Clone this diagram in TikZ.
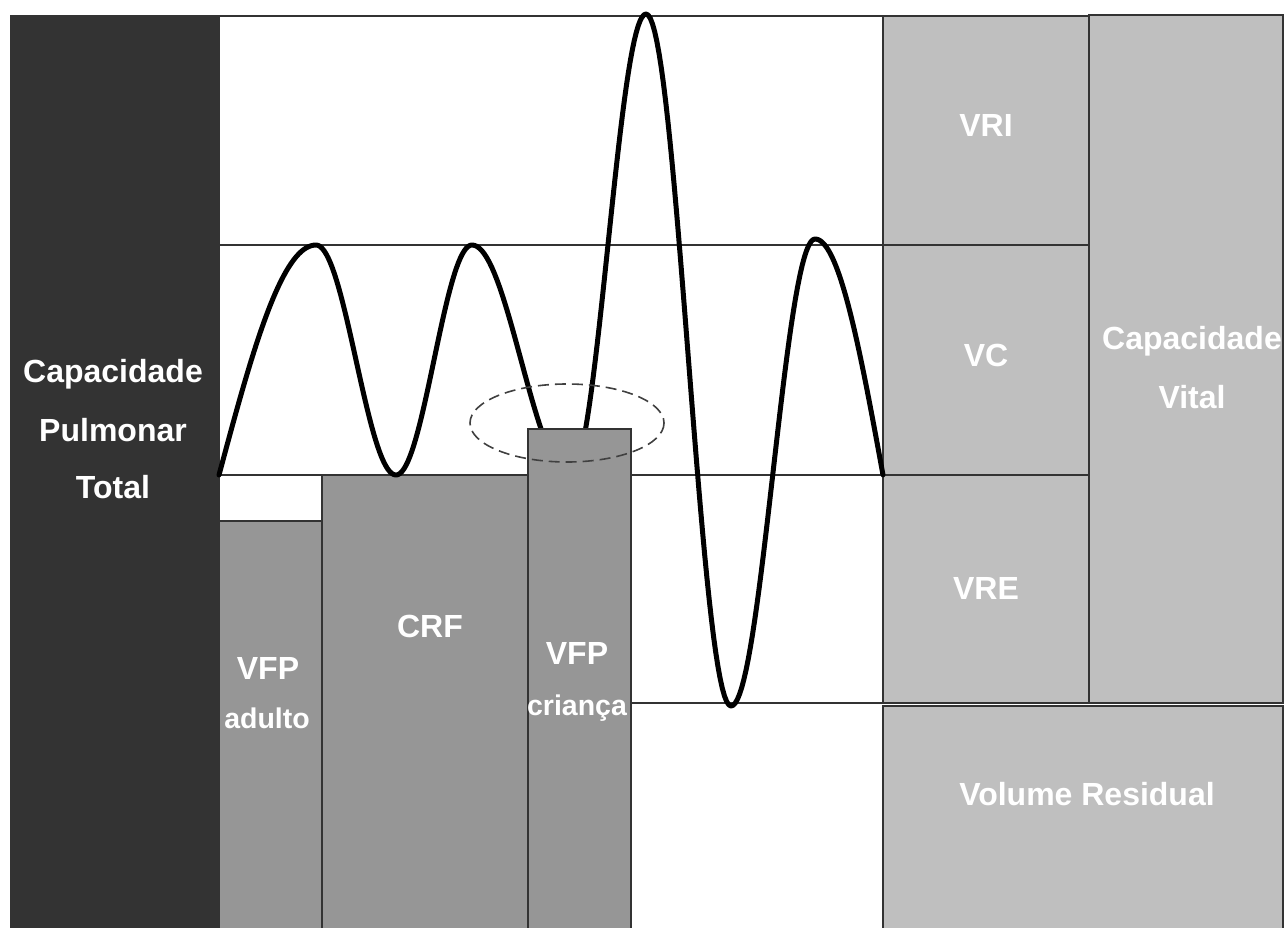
\documentclass[tikz,border=0pt]{standalone}
\usepackage{fontspec}
\setmainfont{Liberation Sans}
\begin{document}
\begin{tikzpicture}[x=1pt,y=-1pt,
  rule/.style={draw=black!80,line width=1.1pt},
  darkbox/.style={rule,fill=black!80},
  midbox/.style={rule,fill=black!41},
  lightbox/.style={rule,fill=black!25},
  lbl/.style={text=white,font=\fontsize{32}{38}\selectfont\bfseries,anchor=base,inner sep=0pt},
  sublbl/.style={lbl,font=\fontsize{28.5}{34}\selectfont\bfseries},
  wave/.style={draw=black,line width=5pt,line join=round,line cap=round}]
\useasboundingbox (0,0) rectangle (1284,928);
\fill[white] (0,0) rectangle (1284,928);
% frame lines
\draw[rule] (219,16) -- (883,16);
\draw[rule] (219,245) -- (883,245);
\draw[rule] (219,475) -- (883,475);
\draw[rule] (631,703) -- (883,703);
% boxes
\draw[darkbox] (11,16) rectangle (219,932);
\draw[midbox] (219,521) rectangle (322,932);
\draw[midbox] (322,475) rectangle (528,932);
\draw[lightbox] (883,16) rectangle (1089,245);
\draw[lightbox] (883,245) rectangle (1089,475);
\draw[lightbox] (883,475) rectangle (1089,703);
\draw[lightbox] (1089,15) rectangle (1283,703);
\draw[lightbox] (883,706) rectangle (1283,932);
% breathing curve
\draw[wave]
  plot[domain=0:1,samples=40] ({219+97*\x},{475-230*sin(90*\x)})
  -- plot[domain=0:1,samples=40] ({316+80*\x},{245+230*(1-cos(180*\x))/2})
  -- plot[domain=0:1,samples=40] ({396+76*\x},{475-230*(1-cos(180*\x))/2})
  -- plot[domain=0:1,samples=40] ({472+98*\x},{245+230*(1-cos(180*\x))/2})
  -- plot[domain=0:1,samples=40] ({570+76*\x},{475-461*(1-cos(180*\x))/2})
  -- plot[domain=0:1,samples=40] ({646+85*\x},{14+692*(1-cos(180*\x))/2})
  -- plot[domain=0:1,samples=40] ({731+84*\x},{706-467*(1-cos(180*\x))/2})
  -- plot[domain=0:1,samples=40] ({815+68*\x},{239+236*(1-cos(90*\x))});
\draw[midbox] (528,429) rectangle (631,932);
% labels
\node[lbl] (cpt1) at (113,382) {Capacidade};
\node[lbl] (cpt2) at (113,441) {Pulmonar};
\node[lbl] (cpt3) at (113,498) {Total};
\node[lbl] (vri) at (986,137) {VRI};
\node[lbl] (vc) at (986,366) {VC};
\node[lbl] (vre) at (986,599) {VRE};
\node[lbl] (cv1) at (1192,349) {Capacidade};
\node[lbl] (cv2) at (1192,408) {Vital};
\node[lbl] (vr) at (1087,805) {Volume Residual};
\node[lbl] (crf) at (430,637) {CRF};
\node[lbl] (vfpa) at (268,679) {VFP};
\node[sublbl] (adulto) at (267,728) {adulto};
\node[lbl] (vfpc) at (577,664) {VFP};
\node[sublbl] (crianca) at (577,715) {criança};
% dashed ellipse
\draw[black!75,line width=1.6pt,dash pattern=on 11pt off 6pt] (567,423) ellipse [x radius=97, y radius=39];
\end{tikzpicture}
\end{document}
